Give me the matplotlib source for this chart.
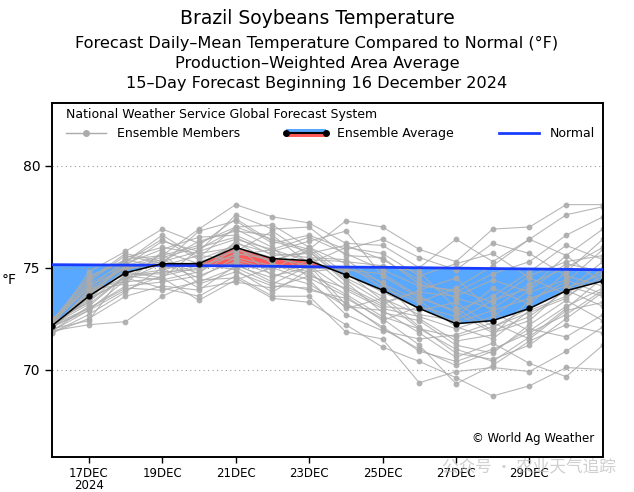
import numpy as np
import matplotlib
matplotlib.use('Agg')
import matplotlib.pyplot as plt
from matplotlib.lines import Line2D
from matplotlib.patches import Rectangle
from matplotlib.legend_handler import HandlerBase

# December days covered by the forecast
days = np.arange(16, 32)

# Ensemble average and normal (deg F)
ens_mean = [72.15, 73.6, 74.75, 75.2, 75.2, 76.0, 75.45, 75.35,
            74.65, 73.9, 73.0, 72.25, 72.4, 73.0, 73.87, 74.35]
normal = [75.15, 75.14, 75.13, 75.12, 75.1, 75.09, 75.07, 75.05,
          75.03, 75.02, 75.0, 74.98, 74.96, 74.94, 74.92, 74.9]

# GFS ensemble members, one row per member
members = [
    [72.1, 74.8, 75.8, 76.9, 76.2, 77.0, 76.4, 75.9, 77.3, 77.0, 75.9, 75.3, 76.9, 77.0, 78.1, 78.1],
    [72.3, 74.5, 75.4, 75.6, 76.9, 78.1, 77.5, 77.2, 76.2, 76.1, 75.0, 76.4, 75.3, 76.4, 75.6, 76.9],
    [72.0, 73.9, 75.1, 76.3, 75.8, 77.6, 76.9, 77.0, 75.6, 75.5, 74.2, 73.8, 74.7, 75.3, 76.6, 77.5],
    [72.4, 74.2, 75.2, 75.9, 76.5, 76.6, 75.8, 76.3, 76.8, 74.6, 73.5, 72.9, 73.6, 74.8, 76.1, 75.4],
    [71.9, 73.1, 74.6, 74.9, 75.3, 75.8, 76.8, 75.6, 74.1, 73.2, 73.9, 74.5, 72.8, 71.9, 73.1, 74.0],
    [72.2, 73.5, 74.9, 75.4, 74.7, 76.3, 75.2, 74.8, 75.0, 74.3, 72.5, 71.4, 71.7, 73.4, 74.3, 75.9],
    [72.0, 73.8, 75.0, 75.1, 75.6, 75.4, 74.9, 75.9, 74.5, 73.6, 72.1, 70.8, 70.5, 71.2, 72.5, 73.8],
    [72.5, 74.0, 74.3, 74.5, 75.9, 76.9, 76.0, 74.5, 73.6, 72.4, 73.1, 72.6, 74.0, 73.2, 74.8, 76.4],
    [71.8, 72.5, 73.6, 74.1, 73.9, 75.1, 74.5, 75.4, 75.3, 75.1, 74.8, 73.0, 71.9, 72.6, 73.9, 73.1],
    [72.1, 72.9, 74.4, 75.7, 74.2, 74.8, 74.1, 74.0, 73.3, 72.0, 71.0, 70.2, 70.9, 72.0, 71.6, 72.7],
    [72.3, 73.3, 75.5, 76.0, 75.7, 76.0, 75.5, 75.1, 73.9, 73.0, 72.6, 72.0, 72.6, 73.9, 75.2, 74.8],
    [71.9, 72.2, 72.35, 73.6, 74.4, 74.5, 73.5, 73.3, 72.2, 71.1, 70.4, 69.6, 68.7, 69.2, 70.1, 70.0],
    [72.2, 74.3, 75.6, 75.2, 76.8, 77.3, 76.2, 76.6, 75.9, 76.4, 75.5, 74.9, 76.2, 75.7, 74.6, 74.1],
    [72.0, 73.7, 74.7, 74.7, 75.1, 75.6, 75.9, 75.3, 74.8, 73.4, 72.0, 71.0, 70.4, 71.6, 73.0, 74.5],
    [72.4, 74.6, 75.3, 76.6, 75.5, 77.0, 77.1, 76.0, 75.2, 74.0, 73.3, 74.0, 75.1, 76.4, 77.6, 78.0],
    [72.1, 73.0, 74.1, 74.3, 74.6, 75.3, 74.7, 74.2, 73.1, 72.9, 71.8, 70.6, 71.3, 70.3, 69.65, 71.2],
    [71.8, 72.7, 73.8, 75.0, 74.0, 74.3, 74.0, 74.6, 74.0, 73.1, 72.9, 73.3, 72.1, 72.8, 73.5, 75.0],
    [72.3, 74.1, 75.0, 75.5, 76.0, 76.5, 75.6, 75.7, 76.1, 75.4, 74.4, 73.5, 73.0, 74.2, 75.0, 76.0],
    [72.2, 73.4, 74.5, 74.8, 74.9, 75.9, 75.3, 76.0, 74.7, 73.8, 73.0, 72.3, 72.9, 73.5, 74.1, 73.6],
    [72.0, 72.4, 74.8, 74.5, 73.4, 74.4, 75.0, 74.4, 72.7, 71.9, 71.5, 71.7, 72.3, 71.5, 72.9, 73.3],
    [72.1, 73.6, 75.3, 76.4, 75.4, 76.1, 74.6, 75.0, 74.9, 74.7, 73.6, 72.8, 71.8, 72.4, 74.0, 74.7],
    [71.9, 72.9, 73.9, 74.6, 75.0, 75.2, 74.3, 73.9, 73.5, 72.5, 71.2, 69.3, 70.2, 71.4, 72.2, 71.8],
    [72.4, 74.4, 75.7, 75.3, 76.3, 76.8, 76.6, 75.2, 76.0, 75.7, 74.6, 75.2, 75.7, 74.5, 73.7, 74.9],
    [72.2, 73.2, 74.6, 74.4, 74.8, 75.7, 75.4, 75.8, 74.3, 72.8, 72.4, 71.2, 70.8, 72.2, 73.4, 72.4],
    [72.0, 73.9, 74.2, 75.8, 75.2, 74.9, 73.8, 74.9, 73.0, 73.5, 72.7, 72.4, 73.4, 74.0, 75.6, 74.2],
    [72.3, 74.0, 75.4, 75.0, 75.1, 76.2, 75.7, 75.5, 75.4, 74.2, 73.4, 72.1, 71.5, 72.9, 73.6, 74.6],
    [72.1, 73.5, 74.4, 75.2, 74.5, 75.5, 75.1, 74.7, 73.7, 72.6, 72.0, 71.6, 72.1, 73.0, 73.9, 75.3],
    [72.2, 73.0, 74.0, 73.9, 74.3, 75.0, 74.2, 75.1, 73.2, 72.1, 70.9, 70.4, 71.0, 71.8, 72.7, 73.9],
    [72.0, 73.7, 75.1, 75.6, 76.1, 77.4, 76.3, 75.8, 74.4, 73.3, 73.8, 73.6, 74.4, 73.8, 74.4, 73.7],
    [72.3, 73.3, 74.9, 75.3, 75.8, 76.4, 75.9, 76.5, 75.7, 74.9, 74.1, 73.9, 73.3, 74.6, 75.3, 75.6],
    [72.1, 73.8, 74.5, 74.0, 73.6, 74.6, 73.6, 73.6, 71.85, 71.5, 69.35, 69.9, 70.1, 69.9, 70.9, 72.1],
]

tick_days = [17, 19, 21, 23, 25, 27, 29]
tick_labels = ['17DEC\n2024', '19DEC', '21DEC', '23DEC', '25DEC', '27DEC', '29DEC']

BLUE_FILL = '#58a8ff'
RED_FILL = '#ff5a5a'
NORMAL_C = '#1a3cff'
MEMBER_C = '#ababab'


class EnsAvgHandler(HandlerBase):
    # blue/red band with the black mean line on top
    def create_artists(self, legend, orig_handle, xdescent, ydescent,
                       width, height, fontsize, trans):
        top = Rectangle((-xdescent, -ydescent + height / 2), width, height / 2,
                        facecolor=BLUE_FILL, edgecolor='none', transform=trans)
        bot = Rectangle((-xdescent, -ydescent), width, height / 2,
                        facecolor=RED_FILL, edgecolor='none', transform=trans)
        yc = -ydescent + height / 2
        ln = Line2D([-xdescent, -xdescent + width], [yc, yc], color='k', lw=1.5,
                    marker='o', ms=4, markevery=[0, 1], transform=trans)
        return [top, bot, ln]


fig = plt.figure(figsize=(6.34, 4.92), dpi=100)
ax = fig.add_axes([0.082, 0.071, 0.869, 0.72])

mean = np.array(ens_mean)
norm = np.array(normal)
ax.fill_between(days, mean, norm, where=mean <= norm, interpolate=True,
                color=BLUE_FILL, lw=0, zorder=1)
ax.fill_between(days, mean, norm, where=mean >= norm, interpolate=True,
                color=RED_FILL, lw=0, zorder=1)

for m in members:
    ax.plot(days, m, color=MEMBER_C, lw=0.8, marker='o', ms=3.2,
            alpha=0.85, zorder=2)

ax.plot(days, norm, color=NORMAL_C, lw=2, zorder=3)
ax.plot(days, mean, color='k', lw=1.1, marker='o', ms=3.5, zorder=4)

ax.set_xlim(16, 31)
ax.set_ylim(65.7, 83.1)
ax.set_xticks(tick_days)
ax.set_xticklabels(tick_labels, fontsize=8.5, linespacing=0.95)
ax.set_yticks([70, 75, 80])
ax.tick_params(axis='y', labelsize=10, length=5, width=1)
ax.tick_params(axis='x', length=4, width=1, pad=3)
ax.yaxis.grid(True, linestyle=(0, (1, 3)), color='#999999', lw=0.8)
for s in ax.spines.values():
    s.set_linewidth(1.4)
ax.set_ylabel('°F', rotation=0, fontsize=10, labelpad=10, va='center')

h_members = Line2D([0, 1], [0, 0], color=MEMBER_C, lw=1, marker='o', ms=4,
                   markevery=[0, 1])
h_avg = object()
h_normal = Line2D([], [], color=NORMAL_C, lw=2)
leg = ax.legend([h_members, h_avg, h_normal],
                ['Ensemble Members', 'Ensemble Average', 'Normal'],
                handler_map={object: EnsAvgHandler()},
                title='National Weather Service Global Forecast System',
                title_fontsize=9, fontsize=9, ncol=3, frameon=False,
                loc='upper left', bbox_to_anchor=(0.01, 1.01),
                alignment='left', handlelength=3.2, columnspacing=3.6,
                borderaxespad=0.3, handletextpad=0.9)

ax.text(0.985, 0.035, '© World Ag Weather', transform=ax.transAxes,
        ha='right', va='bottom', fontsize=8.5)

fig.text(0.5, 0.952, 'Brazil Soybeans Temperature', ha='center', fontsize=13.5)
fig.text(0.5, 0.902, 'Forecast Daily–Mean Temperature Compared to Normal (°F)',
         ha='center', fontsize=11.6)
fig.text(0.5, 0.862, 'Production–Weighted Area Average', ha='center', fontsize=11.6)
fig.text(0.5, 0.822, '15–Day Forecast Beginning 16 December 2024',
         ha='center', fontsize=11.6)

fig.text(0.835, 0.052, '公众号 · 农业天气追踪', ha='center', va='center',
         fontsize=12, color='#bbbbbb', alpha=0.7,
         family=['Noto Sans CJK SC', 'DejaVu Sans'])

fig.savefig('out.png', dpi=100)
